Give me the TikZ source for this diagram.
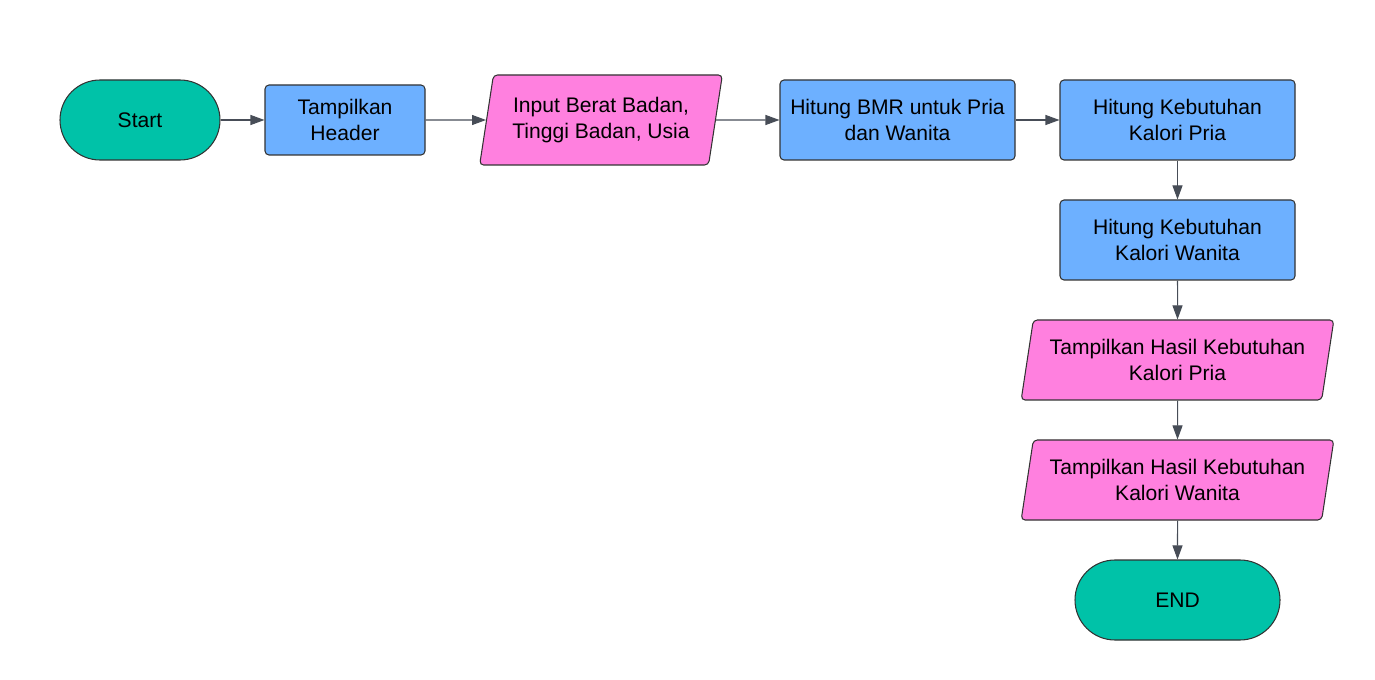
\documentclass[tikz,border=0pt]{standalone}
\usepackage{fontspec}
\setmainfont{Liberation Sans}
\usetikzlibrary{positioning}
\usetikzlibrary{arrows.meta}
\usetikzlibrary{shapes.geometric}
\definecolor{termfill}{HTML}{00C2A8}
\definecolor{procfill}{HTML}{6DB0FF}
\definecolor{iofill}{HTML}{FF80DF}
\definecolor{linecol}{HTML}{474D57}
\tikzset{
    node distance=2.4cm,
    every node/.append style={
        font=\fontsize{12}{14.7}\selectfont,
        align=center,
        draw=black!80,
        line width=0.6pt
    },
    terminal/.style={
        rectangle,
        rounded corners=0.8cm,
        fill=termfill,
        minimum height=1.6cm
    },
    process/.style={
        rectangle,
        rounded corners=0.08cm,
        fill=procfill,
        minimum width=4.7cm,
        minimum height=1.6cm
    },
    io/.style={
        trapezium,
        trapezium left angle=78,
        trapezium right angle=102,
        trapezium stretches=true,
        rounded corners=0.08cm,
        fill=iofill,
        minimum width=6.26cm,
        minimum height=1.6cm
    },
    every edge/.append style={
        draw=linecol,
        -{Triangle[length=2.8mm,width=2mm]},
        line width=0.6pt
    }
}
\begin{document}
\begin{tikzpicture}
    \useasboundingbox (0,0) rectangle (27.5,-13.6);
    \node[terminal, minimum width=3.2cm] (start) at (2.8,-2.4) {Start};
    \node[process, minimum width=3.2cm, minimum height=1.4cm] (header) at (6.9,-2.4) {Tampilkan\\Header};
    \node[io, minimum width=4.86cm, minimum height=1.8cm] (input) at (12.02,-2.4) {Input Berat Badan,\\Tinggi Badan, Usia};
    \node[process] (bmr) at (17.95,-2.4) {Hitung BMR untuk Pria\\dan Wanita};
    \node[process] (kalpria) at (23.55,-2.4) {Hitung Kebutuhan\\Kalori Pria};
    \node[process, below of = kalpria] (kalwanita) {Hitung Kebutuhan\\Kalori Wanita};
    \node[io, below of = kalwanita] (hasilpria) {Tampilkan Hasil Kebutuhan\\Kalori Pria};
    \node[io, below of = hasilpria] (hasilwanita) {Tampilkan Hasil Kebutuhan\\Kalori Wanita};
    \node[terminal, minimum width=4.1cm, below of = hasilwanita] (end) {END};

    \draw (start) edge (header);
    \draw (header) edge (input);
    \draw (input) edge (bmr);
    \draw (bmr) edge (kalpria);
    \draw (kalpria) edge (kalwanita);
    \draw (kalwanita) edge (hasilpria);
    \draw (hasilpria) edge (hasilwanita);
    \draw (hasilwanita) edge (end);
\end{tikzpicture}
\end{document}
